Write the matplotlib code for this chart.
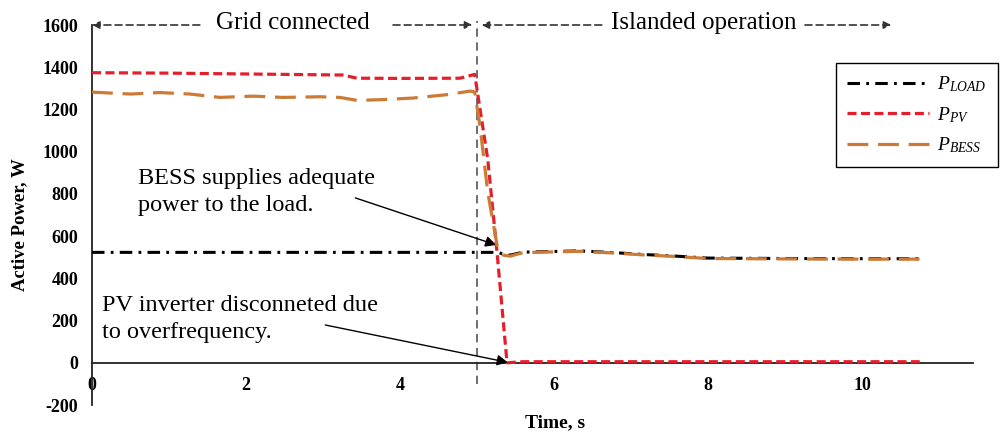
import matplotlib
matplotlib.use("Agg")
import matplotlib.pyplot as plt

plt.rcParams["font.family"] = ["Liberation Serif", "DejaVu Serif"]
plt.rcParams["mathtext.fontset"] = "custom"
plt.rcParams["mathtext.rm"] = "Liberation Serif"
plt.rcParams["mathtext.it"] = "Liberation Serif:italic"
plt.rcParams["lines.scale_dashes"] = False
plt.rcParams["axes.unicode_minus"] = False

# ---- data -------------------------------------------------------------
t_pv = [0, 1.0, 2.0, 3.26, 3.44, 4.0, 4.78, 4.97, 5.14, 5.26, 5.39, 5.6, 7.0, 9.0, 10.75]
p_pv = [1374, 1372, 1368, 1363, 1348, 1347, 1348, 1366, 963, 523, 0, 5, 5, 5, 5]

t_bess = [0, 0.5, 0.88, 1.27, 1.66, 2.09, 2.48, 2.96, 3.22, 3.44, 3.74, 4.17,
          4.61, 4.91, 4.97, 5.04, 5.14, 5.27, 5.34, 5.43, 5.6, 5.95, 6.34, 6.77,
          7.16, 7.55, 7.99, 9.0, 10.0, 10.75]
p_bess = [1282, 1273, 1280, 1273, 1257, 1263, 1257, 1260, 1257, 1243, 1246, 1254,
          1270, 1287, 1283, 1118, 807, 538, 510, 505, 522, 525, 528, 520,
          511, 504, 494, 492, 491, 491]

t_load = [0, 5.27, 5.34, 5.43, 5.6, 5.95, 6.34, 6.77, 7.16, 7.55, 7.99, 9.0, 10.0, 10.75]
p_load = [523, 523, 515, 510, 524, 527, 530, 522, 513, 506, 496, 494, 493, 493]

t_switch = 5.0
x_ticks = [0, 2, 4, 6, 8, 10]
y_ticks = [-200, 0, 200, 400, 600, 800, 1000, 1200, 1400, 1600]

# ---- figure -----------------------------------------------------------
W, H = 1001, 437
fig = plt.figure(figsize=(W / 100, H / 100), dpi=100)
ax = fig.add_axes([92 / W, 1 - 405 / H, (973 - 92) / W, 380 / H])
ax.set_xlim(0, (973 - 92) / 77)
ax.set_ylim(-200, 1600)

c_red = "#e41f2b"
c_orange = "#cc7a35"

ax.plot(t_load, p_load, color="black", lw=2.2,
        dashes=(9, 4.5, 2, 4.5), label=r"$P_{LOAD}$", zorder=3)
ax.plot(t_pv, p_pv, color=c_red, lw=2.3,
        dashes=(6.5, 3.2), label=r"$P_{PV}$", zorder=4)
ax.plot(t_bess, p_bess, color=c_orange, lw=2.3,
        dashes=(15, 7), label=r"$P_{BESS}$", zorder=5)

# switching instant
ax.plot([t_switch, t_switch], [-100, 1620], color="#555555", lw=1.2,
        dashes=(6, 4), clip_on=False, zorder=2)

# spines
for s in ("top", "right"):
    ax.spines[s].set_visible(False)
ax.spines["bottom"].set_position(("data", 0))
ax.spines["left"].set_linewidth(1.3)
ax.spines["bottom"].set_linewidth(1.3)
ax.spines["left"].set_color("#222222")
ax.spines["bottom"].set_color("#222222")

ax.set_xticks(x_ticks)
ax.set_yticks(y_ticks)
ax.tick_params(axis="x", length=0, pad=10, labelsize=13)
ax.tick_params(axis="y", length=0, pad=10, labelsize=13)
for lab in ax.get_xticklabels() + ax.get_yticklabels():
    lab.set_fontweight("bold")

ax.set_xlabel("Time, s", fontsize=14, fontweight="bold")
ax.xaxis.set_label_coords((555 - 92) / (973 - 92), (405 - 423) / 380)
ax.xaxis.label.set_va("center")
fig.text(20 / W, 1 - 225 / H, "Active Power, W", rotation=90, fontsize=13.5,
         fontweight="bold", ha="center", va="center")

# operating-mode headers with dashed arrows
arrow_kw = dict(arrowstyle="-|>", color="#333333", lw=1.2, linestyle=(0, (5, 3)),
                mutation_scale=11, shrinkA=0, shrinkB=0)
y_hdr = 1600
for tail, tip in [(1.40, 0.0), (3.91, 4.94), (6.62, 5.06), (9.26, 10.38)]:
    ax.annotate("", xy=(tip, y_hdr), xytext=(tail, y_hdr),
                arrowprops=arrow_kw, annotation_clip=False)
ax.text(2.61, 1608, "Grid connected", fontsize=18, ha="center", va="center",
        clip_on=False)
ax.text(7.95, 1608, "Islanded operation", fontsize=18, ha="center", va="center",
        clip_on=False)

# event annotations
note_kw = dict(arrowstyle="-|>", color="black", lw=1.0, mutation_scale=16,
               shrinkA=0, shrinkB=0)
ax.text(0.60, 809, "BESS supplies adequate\npower to the load.", fontsize=17.5,
        ha="left", va="center", linespacing=1.4)
ax.annotate("", xy=(5.25, 558), xytext=(3.42, 781), arrowprops=note_kw)
ax.text(0.13, 207, "PV inverter disconneted due\nto overfrequency.", fontsize=17.5,
        ha="left", va="center", linespacing=1.4)
ax.annotate("", xy=(5.40, 2), xytext=(3.03, 179), arrowprops=note_kw)

leg = fig.legend(loc="upper right", bbox_to_anchor=(998 / W, 1 - 63 / H),
                 borderaxespad=0, fontsize=14, handlelength=4.2,
                 labelspacing=0.55, borderpad=0.6, handletextpad=0.4,
                 fancybox=False, edgecolor="black", framealpha=1)
leg.get_frame().set_linewidth(1.0)

fig.savefig("out.png", dpi=100)
